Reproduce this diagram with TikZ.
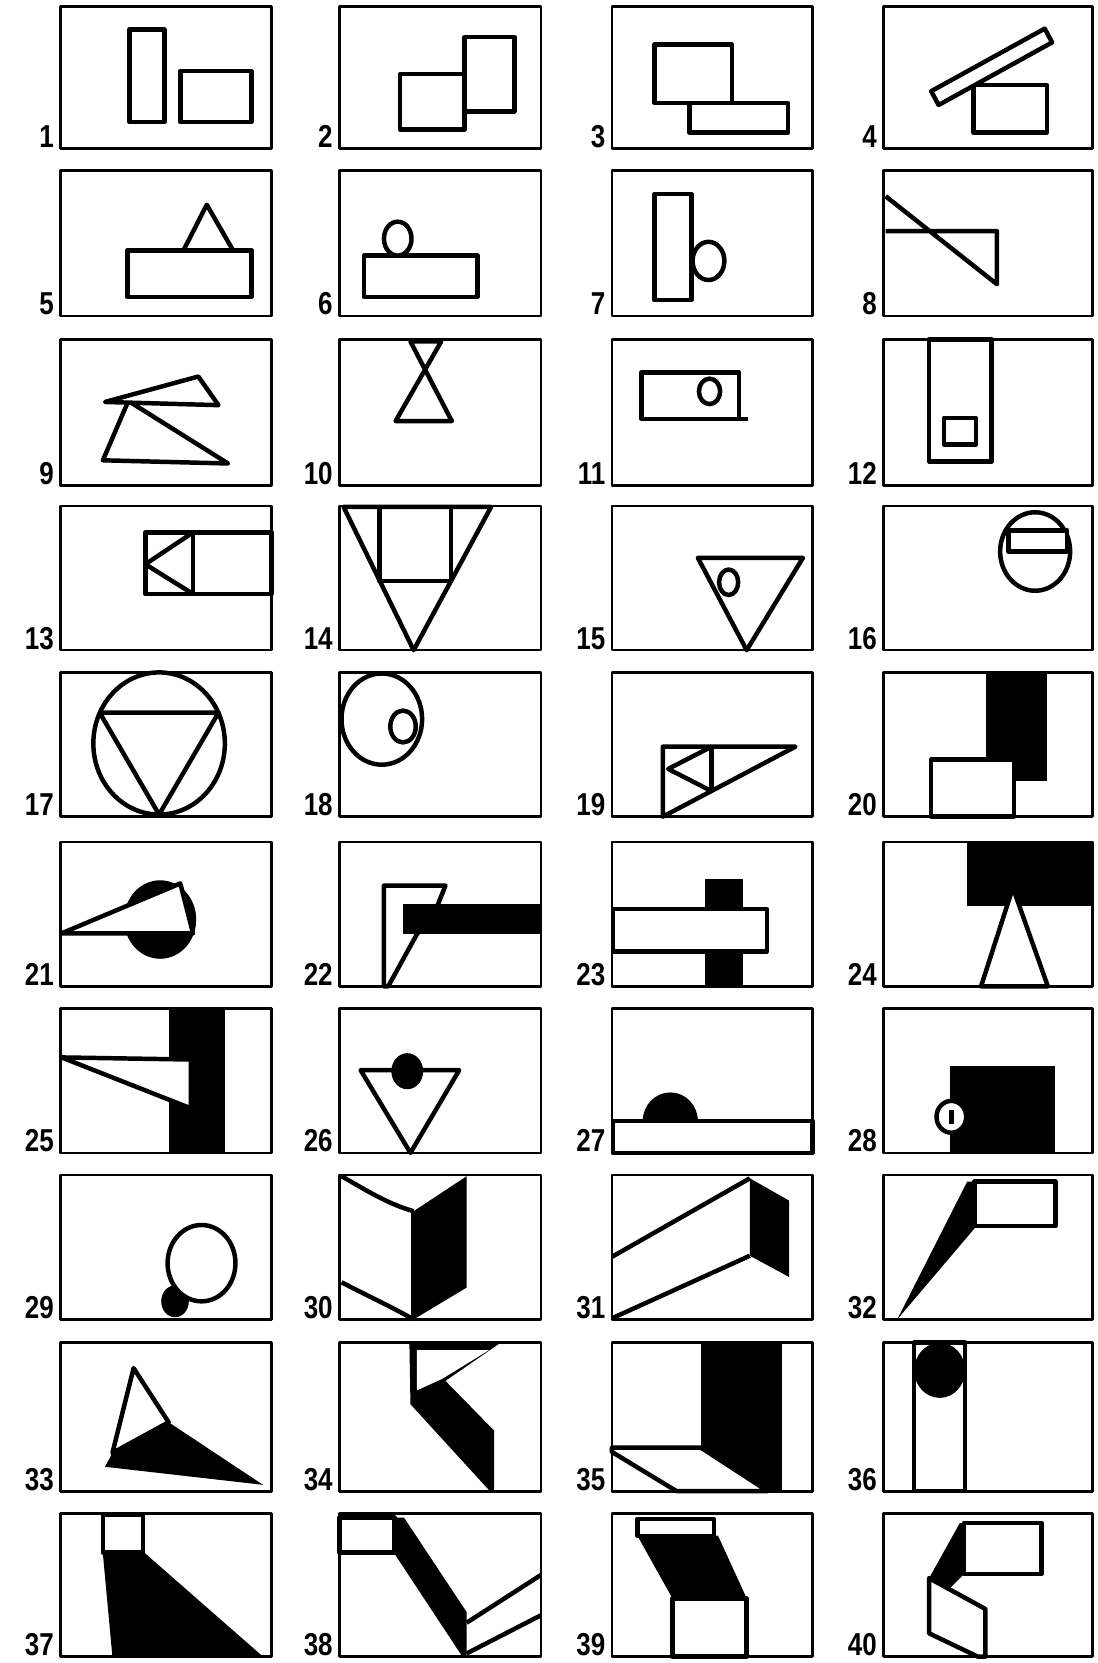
\documentclass[tikz,border=0pt]{standalone}
\usepackage{fontspec}
\newfontfamily\numfont[FakeStretch=0.82]{Liberation Sans}

\begin{document}
\begin{tikzpicture}[x=0.02cm, y=-0.02cm, line join=round,
    frame/.style={line width=1.4pt},
    fig/.style={draw, line width=2.4pt, fill=white},
    ln/.style={line width=2.4pt},
    num/.style={font=\numfont\bfseries\fontsize{17}{17}\selectfont, anchor=base east, inner sep=0pt}]
\useasboundingbox (0,0) rectangle (1035,1568);

% Figuras 1 a 4
\begin{scope}[shift={(57,6)}]
  \draw[fig] (65,22) rectangle (98,109);
  \draw[fig] (113,61) rectangle (180,109);
\end{scope}
\begin{scope}[shift={(320,6)}]
  \draw[fig] (57,64) rectangle (118,116);
  \draw[fig] (118,29) rectangle (165,99);
\end{scope}
\begin{scope}[shift={(577,6)}]
  \draw[fig] (40,36) rectangle (113,91);
  \draw[fig] (73,91) rectangle (166,119);
\end{scope}
\begin{scope}[shift={(833,6)}]
  \draw[fig] (85,74) rectangle (154,119);
  \draw[fig] (45,80) -- (152,21) -- (159,34) -- (52,93) -- cycle;
\end{scope}

% Figuras 5 a 8
\begin{scope}[shift={(57,161)}]
  \draw[fig] (115,77) -- (138,32) -- (165,79) -- cycle;
  \draw[fig] (63,75) rectangle (180,119);
\end{scope}
\begin{scope}[shift={(320,161)}]
  \draw[fig] (23,80) rectangle (130,119);
  \draw[fig] (55,64) ellipse [x radius=13, y radius=16];
\end{scope}
\begin{scope}[shift={(577,161)}]
  \draw[fig] (40,22) rectangle (75,122);
  \draw[fig] (91,85) ellipse [x radius=15, y radius=18];
\end{scope}
\begin{scope}[shift={(833,161)}]
  \draw[ln] (2,24) -- (107,107) -- (107,57) -- (2,57);
\end{scope}

% Figuras 9 a 12
\begin{scope}[shift={(57,320)}]
  \draw[fig] (64,58) -- (40,114) -- (158,117) -- cycle;
  \draw[fig] (42,59) -- (130,35) -- (149,62) -- cycle;
\end{scope}
\begin{scope}[shift={(320,320)}]
  \draw[fig] (67,2) -- (96,2) -- (53,77) -- (106,77) -- cycle;
\end{scope}
\begin{scope}[shift={(577,320)}]
  \draw[fig] (28,31) rectangle (120,75);
  \draw[ln] (120,75) -- (128,75);
  \draw[ln] (92,49) ellipse [x radius=10, y radius=12];
\end{scope}
\begin{scope}[shift={(833,320)}]
  \draw[fig] (43,0) rectangle (102,115);
  \draw[fig] (57,74) rectangle (87,99);
\end{scope}

% Figuras 13 a 16
\begin{scope}[shift={(57,477)}]
  \draw[fig] (80,25) rectangle (199,83);
  \draw[ln] (125,25) -- (125,83);
  \draw[ln] (125,25) -- (80,55) -- (125,83);
\end{scope}
\begin{scope}[shift={(320,477)}]
  \draw[fig] (4,1) -- (143,1) -- (70,136) -- cycle;
  \draw[ln] (38,1) -- (38,71) -- (105,71) -- (105,1);
\end{scope}
\begin{scope}[shift={(577,477)}]
  \draw[fig] (81,49) -- (180,49) -- (127,136) -- cycle;
  \draw[ln] (110,72) ellipse [x radius=9, y radius=12];
\end{scope}
\begin{scope}[shift={(833,477)}]
  \draw[fig] (143,43) ellipse [x radius=33, y radius=37];
  \draw[fig] (118,23) rectangle (173,43);
\end{scope}

% Figuras 17 a 20
\begin{scope}[shift={(57,634)}]
  \draw[fig] (93,67) ellipse [x radius=62, y radius=67];
  \draw[ln] (37,38) -- (149,38) -- (93,134) -- cycle;
\end{scope}
\begin{scope}[shift={(320,634)}]
  \draw[fig] (40,44) ellipse [x radius=38, y radius=43];
  \draw[ln] (60,51) ellipse [x radius=12, y radius=15];
\end{scope}
\begin{scope}[shift={(577,634)}]
  \draw[fig] (48,70) -- (173,70) -- (48,136) -- cycle;
  \draw[ln] (94,70) -- (94,112);
  \draw[ln] (94,70) -- (53,91) -- (94,112);
\end{scope}
\begin{scope}[shift={(833,634)}]
  \fill (97,0) rectangle (154,102);
  \draw[fig] (45,82) rectangle (123,136);
\end{scope}

% Figuras 21 a 24 (con partes negras)
\begin{scope}[shift={(57,794)}]
  \fill (94,73) ellipse [x radius=34, y radius=37];
  \draw[fig] (1,86) -- (113,39) -- (125,86) -- cycle;
\end{scope}
\begin{scope}[shift={(320,794)}]
  \draw[fig] (42,41) -- (100,41) -- (90,66) -- (73,87) -- (46,136) -- (42,136) -- cycle;
  \fill (60,58) rectangle (190,87);
\end{scope}
\begin{scope}[shift={(577,794)}]
  \fill (88,35) rectangle (124,136);
  \draw[fig] (1,63) rectangle (146,103);
\end{scope}
\begin{scope}[shift={(833,794)}]
  \fill (79,0) rectangle (197,60);
  \draw[fig] (122,43) -- (92,136) -- (155,136) -- cycle;
\end{scope}

% Figuras 25 a 28
\begin{scope}[shift={(57,951)}]
  \fill (102,0) rectangle (155,136);
  \draw[fig] (1,46) -- (123,48) -- (123,94) -- cycle;
\end{scope}
\begin{scope}[shift={(320,951)}]
  \draw[fig] (20,58) -- (113,58) -- (67,136) -- cycle;
  \fill (64,59) ellipse [x radius=15, y radius=17];
\end{scope}
\begin{scope}[shift={(577,951)}]
  \draw[fig] (1,106) rectangle (189,136);
  \fill (29,106) arc[start angle=180, end angle=360, x radius=26, y radius=27] -- cycle;
\end{scope}
\begin{scope}[shift={(833,951)}]
  \fill (63,54) rectangle (162,136);
  \draw[fig] (64,102) ellipse [x radius=14, y radius=15];
  \draw[ln] (64,96) -- (64,109);
\end{scope}

% Figuras 29 a 32
\begin{scope}[shift={(57,1108)}]
  \fill (108,119) ellipse [x radius=13, y radius=15];
  \draw[fig] (133,83) ellipse [x radius=32, y radius=36];
\end{scope}
\begin{scope}[shift={(320,1108)}]
  \fill (70,34) -- (120,1) -- (120,106) -- (70,136) -- cycle;
  \draw[ln] (2,1) .. controls (25,14) and (45,27) .. (70,34);
  \draw[ln] (2,101) .. controls (25,113) and (45,122) .. (70,136);
  \draw[ln] (70,34) -- (70,136);
\end{scope}
\begin{scope}[shift={(577,1108)}]
  \draw[ln] (0,77) -- (130,3);
  \draw[ln] (0,135) -- (130,76);
  \fill (130,3) -- (167,24) -- (167,96) -- (130,76) -- cycle;
\end{scope}
\begin{scope}[shift={(833,1108)}]
  \fill (79,6) -- (86,6) -- (86,50) -- (13,136) -- cycle;
  \draw[fig] (86,6) rectangle (162,48);
\end{scope}

% Figuras 33 a 36
\begin{scope}[shift={(57,1266)}]
  \fill (102,75) -- (191,134) -- (42,117) -- (49,104) -- cycle;
  \draw[fig] (69,24) -- (102,75) -- (49,104) -- cycle;
\end{scope}
\begin{scope}[shift={(320,1266)}]
  \fill (66,0) -- (152,0) -- (100,36) -- (146,83) -- (146,140) -- (142,140) -- (67,58) -- cycle;
  \fill[white] (73,7) -- (141,7) -- (97,34) -- (73,45) -- cycle;
\end{scope}
\begin{scope}[shift={(577,1266)}]
  \fill (84,0) rectangle (160,140);
  \draw[fig] (0,99) -- (84,99) -- (147,140) -- (61,140) -- (0,103) -- cycle;
\end{scope}
\begin{scope}[shift={(833,1266)}]
  \draw[fig] (29,0) rectangle (77,140);
  \fill (53,26) ellipse [x radius=24, y radius=26];
\end{scope}

% Figuras 37 a 40
\begin{scope}[shift={(57,1427)}]
  \draw[fig] (40,1) rectangle (78,37);
  \fill (40,38) -- (78,36) -- (191,135) -- (49,135) -- cycle;
\end{scope}
\begin{scope}[shift={(320,1427)}]
  \draw[fig] (0,4) rectangle (52,37);
  \fill (52,4) -- (61,4) -- (120,93) -- (120,135) -- (116,135) -- (52,38) -- cycle;
  \draw[ln] (120,103) -- (190,58);
  \draw[ln] (120,132) -- (190,96);
\end{scope}
\begin{scope}[shift={(577,1427)}]
  \draw[fig] (24,5) rectangle (96,21);
  \fill (24,21) -- (100,21) -- (127,80) -- (57,80) -- cycle;
  \draw[fig] (57,80) rectangle (127,135);
\end{scope}
\begin{scope}[shift={(833,1427)}]
  \draw[fig] (76,9) rectangle (149,57);
  \fill (72,9) -- (76,9) -- (76,57) -- (63,70) -- (43,61) -- cycle;
  \draw[fig] (43,61) -- (96,90) -- (96,135) -- (89,135) -- (43,113) -- cycle;
\end{scope}

% Marcos y numeros
\foreach \t/\h [count=\r from 0] in {6/134,161/137,320/138,477/136,634/136,794/136,951/136,1108/136,1266/140,1427/135}
  \foreach \l/\w [count=\c from 1] in {57/199,320/190,577/189,833/197} {
    \pgfmathtruncatemacro\k{4*\r+\c}
    \draw[frame] (\l,\t) rectangle ++(\w,\h);
    \node[num] (lab\k) at (\l-6,\t+\h-1) {\k};
  }
\end{tikzpicture}
\end{document}
